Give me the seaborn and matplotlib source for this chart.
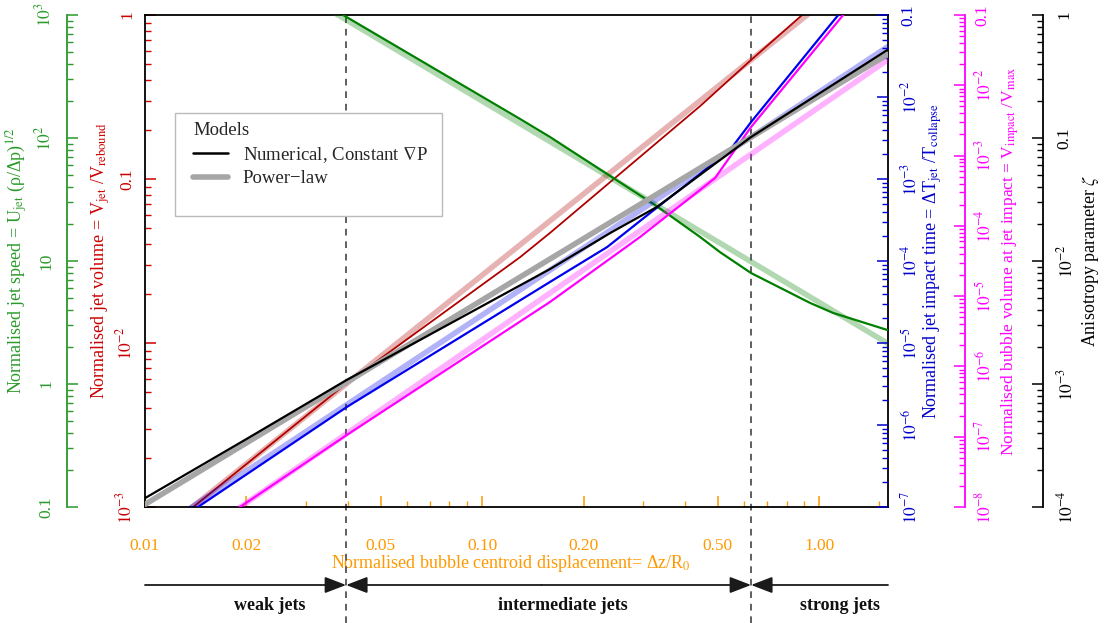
import numpy as np
import matplotlib
matplotlib.use('Agg')
import matplotlib.pyplot as plt
import matplotlib.transforms as mtransforms
import matplotlib.patches as mpatches
from matplotlib.lines import Line2D
from matplotlib.ticker import FixedLocator, FixedFormatter, NullFormatter
import seaborn as sns

# ---------------- data ----------------
# numerical model (constant grad P)
x_zeta = [0.01, 0.02, 0.0397, 0.08, 0.159, 0.240, 0.330, 0.508, 0.628, 1.0, 1.592]
zeta_num = [1.18e-4, 3.57e-4, 1.08e-3, 3.08e-3, 8.6e-3, 0.0169, 0.0275, 0.0662, 0.1019, 0.230, 0.519]

x_vjet = [0.0139, 0.0397, 0.1297, 0.159, 0.4436, 0.628, 0.89, 1.0]
vjet_num = [1.0e-3, 5.70e-3, 0.0334, 0.0469, 0.2786, 0.532, 1.0, 1.24]

x_ujet = [0.0387, 0.1297, 0.159, 0.326, 0.443, 0.508, 0.628, 0.94, 1.10, 1.592]
ujet_num = [1000, 142.6, 101.9, 28.5, 15.7, 11.8, 7.98, 4.56, 3.78, 2.75]

x_tjet = [0.01436, 0.0397, 0.159, 0.235, 0.315, 0.443, 0.552, 0.628, 1.139, 1.3]
tjet_num = [1.0e-7, 1.66e-6, 5.55e-5, 1.48e-4, 3.85e-4, 1.15e-3, 2.45e-3, 4.95e-3, 0.1, 0.195]

x_vimp = [0.01914, 0.0397, 0.159, 0.294, 0.443, 0.491, 0.628, 1.178, 1.3]
vimp_num = [1.0e-8, 1.06e-7, 8.26e-6, 6.93e-5, 3.24e-4, 4.80e-4, 2.55e-3, 0.1, 0.178]

# power-law fits
x_pl = [0.01, 0.1, 1.0, 1.6]
zeta_pl = [1.05e-4, 4.81e-3, 0.220, 0.480]
vjet_pl = [5.87e-4, 0.0259, 1.145, 2.48]
ujet_pl = [8663, 199.8, 4.61, 2.13]
tjet_pl = [4.18e-8, 2.19e-5, 0.01151, 0.0413]
vimp_pl = [1.15e-9, 2.38e-6, 4.90e-3, 0.0232]

# regime boundaries
x_weak = 0.0395
x_strong = 0.628
regime_names = ['weak jets', 'intermediate jets', 'strong jets']
regime_label_x = [0.0235, 0.174, 1.154]

# tick labels
x_ticks = [0.01, 0.02, 0.05, 0.1, 0.2, 0.5, 1.0]
x_ticklabels = ['0.01', '0.02', '0.05', '0.10', '0.20', '0.50', '1.00']
x_minor = [0.03, 0.04, 0.06, 0.07, 0.08, 0.09, 0.3, 0.4, 0.6, 0.7, 0.8, 0.9, 1.5]
red_ticklabels = [r'$10^{-3}$', r'$10^{-2}$', '0.1', '1']
green_ticklabels = ['0.1', '1', '10', r'$10^{2}$', r'$10^{3}$']
blue_ticklabels = [r'$10^{-7}$', r'$10^{-6}$', r'$10^{-5}$', r'$10^{-4}$', r'$10^{-3}$', r'$10^{-2}$', '0.1']
mag_ticklabels = [r'$10^{-8}$', r'$10^{-7}$', r'$10^{-6}$', r'$10^{-5}$', r'$10^{-4}$', r'$10^{-3}$', r'$10^{-2}$', '0.1']
zeta_ticklabels = [r'$10^{-4}$', r'$10^{-3}$', r'$10^{-2}$', '0.1', '1']

# ---------------- style ----------------
sns.set_theme(style='ticks')
plt.rcParams['font.family'] = ['Liberation Serif', 'DejaVu Serif']
plt.rcParams['mathtext.fontset'] = 'stix'
plt.rcParams['font.size'] = 12

GREEN_AX, GREEN = '#2a9a2a', '#008000'
RED_AX, RED = '#cc0000', '#b00000'
BLUE_AX, BLUE = '#0000cc', '#0000ee'
MAG = '#ff00ff'
ORANGE = '#ff9900'
FS = 12.5     # tick labels
LFS = 13      # axis labels

W, H = 1106, 623
fig = plt.figure(figsize=(W / 100, H / 100), dpi=100)
L, R, T, B = 145, 888, 15, 507
ax = fig.add_axes([L / W, 1 - B / H, (R - L) / W, (B - T) / H])
ax.set_xscale('log')
ax.set_yscale('log')
ax.set_xlim(0.01, 1.6)
ax.set_ylim(1e-3, 1)
ax.grid(False)
for s in ax.spines.values():
    s.set_color('black')
    s.set_linewidth(1.3)


def decades(lo, hi):
    major = [10.0 ** e for e in range(lo, hi + 1)]
    minor = [m * 10.0 ** e for e in range(lo, hi) for m in range(2, 10)]
    return major, minor


def style_y(a, lo, hi, labels, color, pad):
    a.set_yscale('log')
    a.set_ylim(10.0 ** lo, 10.0 ** hi)
    major, minor = decades(lo, hi)
    a.yaxis.set_major_locator(FixedLocator(major))
    a.yaxis.set_major_formatter(FixedFormatter(labels))
    a.yaxis.set_minor_locator(FixedLocator(minor))
    a.yaxis.set_minor_formatter(NullFormatter())
    a.tick_params(axis='y', which='major', direction='in', length=8, width=1.1,
                  color=color, labelcolor=color, labelsize=FS, pad=pad, labelrotation=90)
    a.tick_params(axis='y', which='minor', direction='in', length=4.5, width=1.0, color=color)


def twin(pos, side, color):
    t = ax.twinx()
    t.grid(False)
    for s in t.spines.values():
        s.set_visible(False)
    if side == 'left':
        t.yaxis.set_ticks_position('left')
        t.yaxis.set_label_position('left')
    else:
        t.yaxis.set_ticks_position('right')
        t.yaxis.set_label_position('right')
    if pos is not None:
        sp = t.spines[side]
        sp.set_visible(True)
        sp.set_position(('axes', pos))
        sp.set_color(color)
        sp.set_linewidth(1.3)
    return t


# host: red jet volume
style_y(ax, -3, 0, red_ticklabels, RED_AX, 7)
# x axis (orange)
ax.xaxis.set_major_locator(FixedLocator(x_ticks))
ax.xaxis.set_major_formatter(FixedFormatter(x_ticklabels))
ax.xaxis.set_minor_locator(FixedLocator(x_minor))
ax.xaxis.set_minor_formatter(NullFormatter())
ax.tick_params(axis='x', which='major', direction='in', length=8, width=1.1,
               color=ORANGE, labelcolor=ORANGE, labelsize=FS, pad=22)
ax.tick_params(axis='x', which='minor', direction='in', length=4.5, width=1.0, color=ORANGE)

ax_g = twin((67 - L) / (R - L), 'left', GREEN_AX)
style_y(ax_g, -1, 3, green_ticklabels, GREEN_AX, 9)
ax_b = twin(None, 'right', BLUE_AX)
style_y(ax_b, -7, -1, blue_ticklabels, BLUE_AX, 9)
ax_m = twin((965 - L) / (R - L), 'right', MAG)
style_y(ax_m, -8, -1, mag_ticklabels, MAG, 7)
ax_z = twin((1043 - L) / (R - L), 'right', 'black')
style_y(ax_z, -4, 0, zeta_ticklabels, 'black', 9.5)

# ---------------- curves ----------------
PLW, NLW, PLA = 4.0, 1.6, 0.3
sns.lineplot(x=x_pl, y=vjet_pl, ax=ax, color=RED, lw=PLW, alpha=PLA, estimator=None, legend=False)
sns.lineplot(x=x_vjet, y=vjet_num, ax=ax, color=RED, lw=1.3, estimator=None, legend=False)

sns.lineplot(x=x_pl, y=ujet_pl, ax=ax_g, color=GREEN, lw=PLW, alpha=PLA, estimator=None, legend=False)
sns.lineplot(x=x_ujet, y=ujet_num, ax=ax_g, color=GREEN, lw=NLW, estimator=None, legend=False)

sns.lineplot(x=x_pl, y=tjet_pl, ax=ax_b, color=BLUE, lw=PLW, alpha=PLA, estimator=None, legend=False)
sns.lineplot(x=x_tjet, y=tjet_num, ax=ax_b, color=BLUE, lw=NLW, estimator=None, legend=False)

sns.lineplot(x=x_pl, y=vimp_pl, ax=ax_m, color=MAG, lw=PLW, alpha=PLA, estimator=None, legend=False)
sns.lineplot(x=x_vimp, y=vimp_num, ax=ax_m, color=MAG, lw=NLW, estimator=None, legend=False)

sns.lineplot(x=x_pl, y=zeta_pl, ax=ax_z, color='#a6a6a6', lw=PLW, estimator=None, legend=False)
sns.lineplot(x=x_zeta, y=zeta_num, ax=ax_z, color='black', lw=NLW, estimator=None, legend=False)

for a in (ax, ax_g, ax_b, ax_m, ax_z):
    a.set_xlim(0.01, 1.6)

# ---------------- labels ----------------
def ylab(a, text, color, px, size=LFS):
    a.set_ylabel(text, color=color, fontsize=size, rotation=90)
    a.yaxis.set_label_coords((px - L) / (R - L), 0.5)
    a.yaxis.label.set_va('center')
    a.yaxis.label.set_ha('center')

ylab(ax_g, r'Normalised jet speed = U$_{\rm jet}$ (ρ/Δp)$^{1/2}$', GREEN_AX, 17)
ylab(ax, r'Normalised jet volume = V$_{\rm jet}$ /V$_{\rm rebound}$', RED_AX, 101)
ylab(ax_b, r'Normalised jet impact time = ΔT$_{\rm jet}$ /T$_{\rm collapse}$', BLUE_AX, 933)
ylab(ax_m, r'Normalised bubble volume at jet impact = V$_{\rm impact}$ /V$_{\rm max}$', MAG, 1010, 12.5)
ylab(ax_z, r'Anisotropy parameter $\zeta$', 'black', 1091)

ax.set_xlabel(r'Normalised bubble centroid displacement= Δz/R$_0$', color=ORANGE, fontsize=LFS)
ax.xaxis.set_label_coords((511 - L) / (R - L), (B - 563) / (B - T))
ax.xaxis.label.set_va('center')

for a in (ax, ax_g, ax_b, ax_m, ax_z):
    for lab in a.get_yticklabels():
        lab.set_va('center')

# ---------------- regime markers ----------------
trans = mtransforms.blended_transform_factory(ax.transData, ax.transAxes)
y_fig_bottom = (B - H) / (B - T)
for xv in (x_weak, x_strong):
    ax.axvline(xv, ymin=y_fig_bottom, ymax=1.0, color='#444444', lw=1.2,
               ls=(0, (4, 3.5)), clip_on=False, zorder=1)

arrow_y = (B - 585) / (B - T)
for start, end in [(0.01, x_weak), (0.15, x_weak), (0.15, x_strong), (1.6, x_strong)]:
    ax.annotate('', xy=(end, arrow_y), xytext=(start, arrow_y), xycoords=trans, textcoords=trans,
                annotation_clip=False,
                arrowprops=dict(arrowstyle='-|>,head_length=1.3,head_width=0.5', color='#1a1a1a',
                                lw=1.3, shrinkA=0, shrinkB=0, mutation_scale=10))
label_y = (B - 606) / (B - T)
for name, xv in zip(regime_names, regime_label_x):
    ax.text(xv, label_y, name, transform=trans, ha='center', va='center',
            fontsize=13, fontweight='bold', color='#111111', clip_on=False)

# ---------------- legend ----------------
lx0, lx1 = (175 - L) / (R - L), (442 - L) / (R - L)
ly0, ly1 = (B - 216) / (B - T), (B - 113) / (B - T)
ax_z.add_patch(mpatches.Rectangle((lx0, ly0), lx1 - lx0, ly1 - ly0, transform=ax_z.transAxes,
                                  facecolor='white', edgecolor='#bbbbbb', lw=1.0, zorder=4))
handles = [Line2D([], [], color='black', lw=1.8), Line2D([], [], color='#a6a6a6', lw=4.0)]
leg = ax_z.legend(handles, ['Numerical, Constant $\\nabla$P', 'Power\u2212law'], title='Models',
                  loc='upper left', bbox_to_anchor=(lx0 + 0.004, ly1 + 0.012), frameon=False,
                  fontsize=13.5, title_fontsize=13.5, alignment='left', handlelength=1.85,
                  handletextpad=0.8, borderpad=0.3, labelspacing=0.3)
leg.set_zorder(5)

fig.savefig('out.png', dpi=100)
